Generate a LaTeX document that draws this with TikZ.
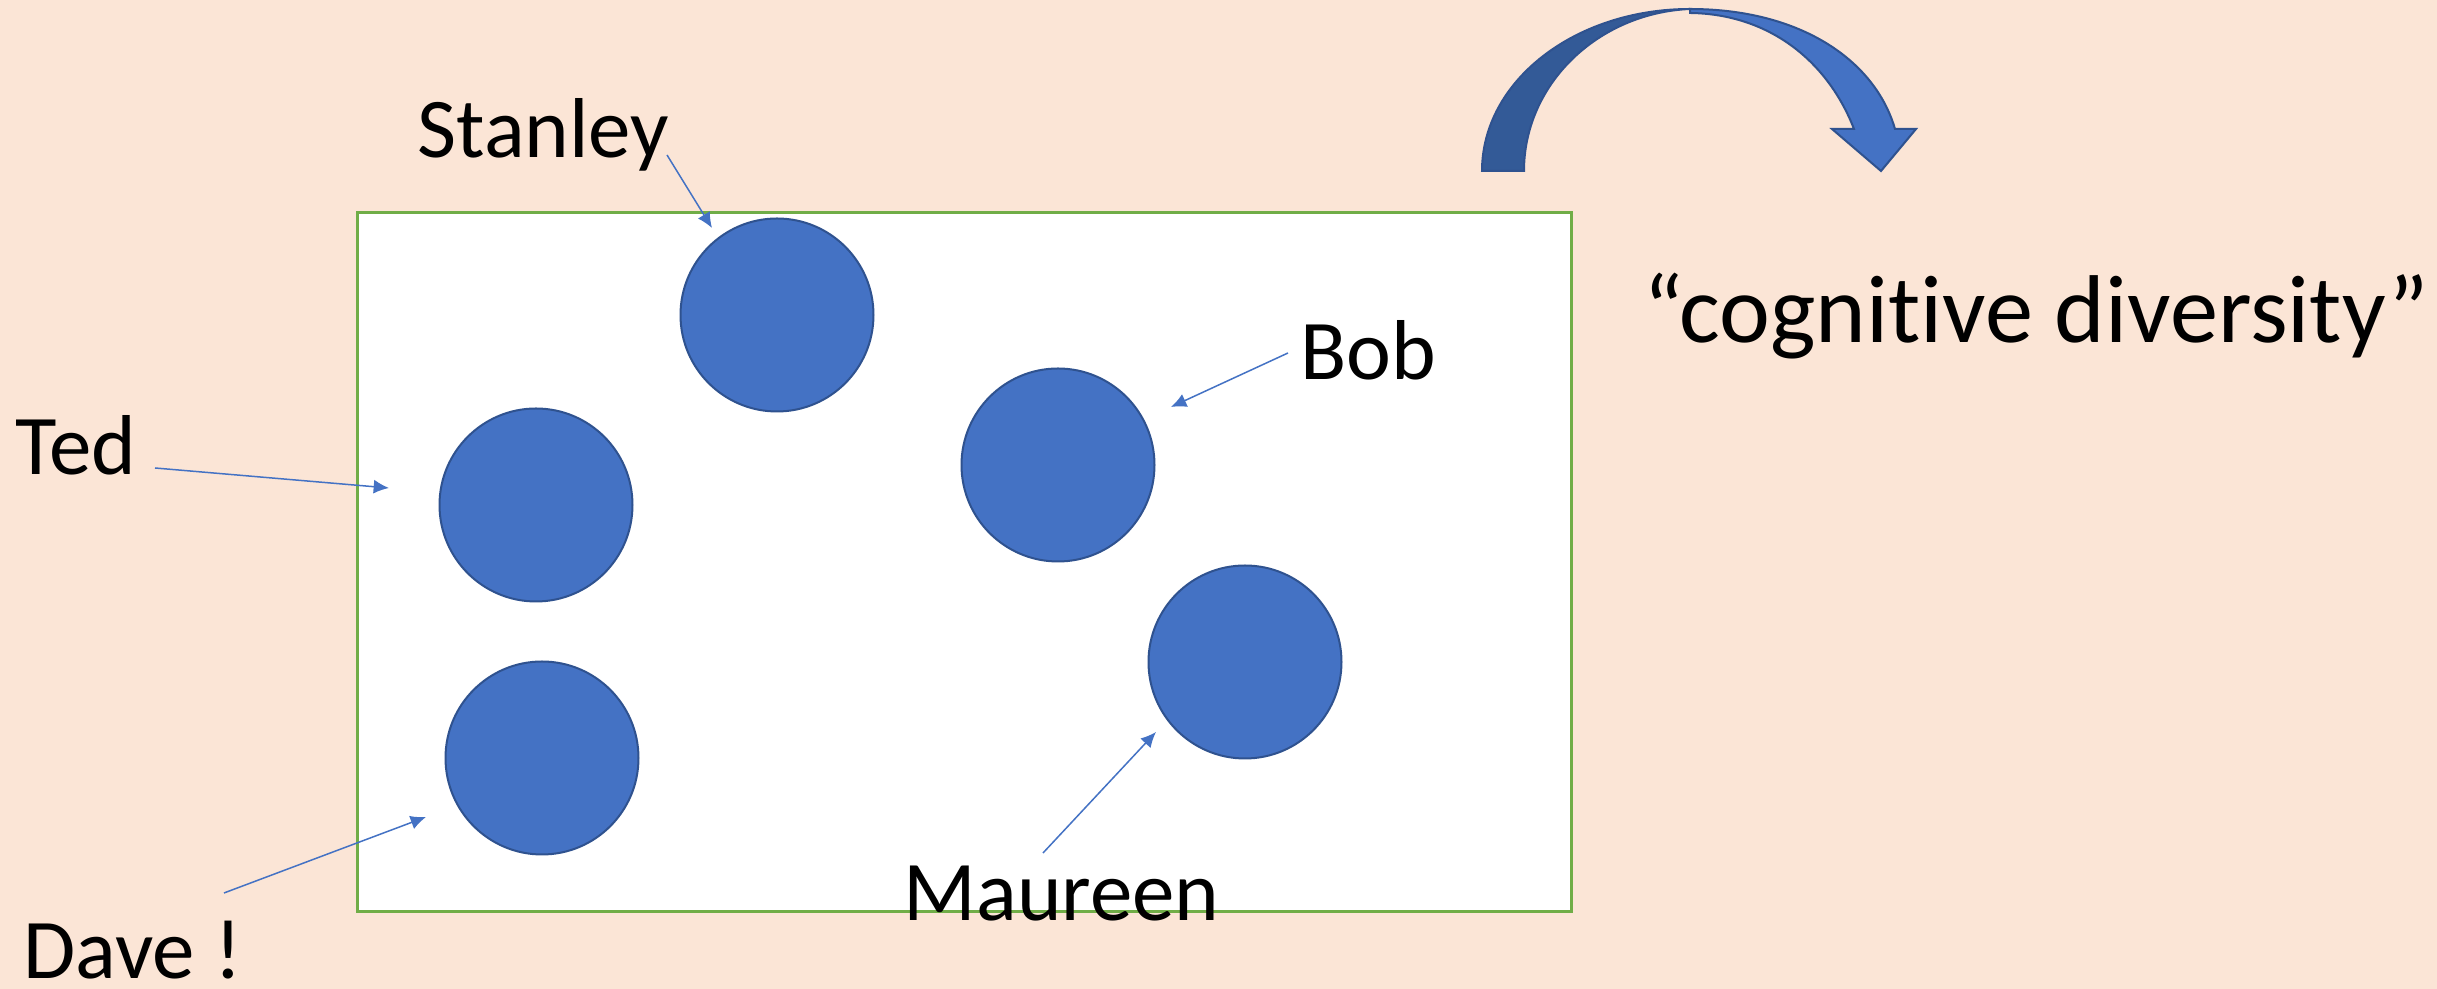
\documentclass[tikz,border=0pt]{standalone}
\usepackage{fontspec}
\setmainfont{Carlito}[Ligatures={NoCommon}]
\usetikzlibrary{arrows.meta}
\definecolor{peach}{HTML}{FBE5D6}
\definecolor{accent}{HTML}{4472C4}
\definecolor{accentdark}{HTML}{2F528F}
\definecolor{bandshade}{HTML}{335A97}
\definecolor{frame}{HTML}{70AD47}
\begin{document}
\begin{tikzpicture}[x=0.3pt,y=-0.3pt,
  person/.style={circle, fill=accent, draw=accentdark, line width=0.6pt,
    minimum size=57.9pt, inner sep=0pt},
  personlabel/.style={anchor=base west, inner sep=0pt, font=\fontsize{25.5}{30}\selectfont},
  pointer/.style={draw=accent, line width=0.45pt, -{Latex[length=4.6pt,width=4.2pt]}}]
% page background
\fill[peach] (0,0) rectangle (2437,989);
\useasboundingbox (0,0) rectangle (2437,989);

% the field holding the people
\node[draw=frame, fill=white, line width=0.9pt, anchor=north west, inner sep=0pt,
  minimum width=364.2pt, minimum height=209.7pt] (field) at (356,211) {};

% people
\node[person] (stanleyC) at (777,315) {};
\node[person] (tedC) at (536,505) {};
\node[person] (daveC) at (542,758) {};
\node[person] (bobC) at (1058,465) {};
\node[person] (maureenC) at (1245,662) {};

% names
\node[personlabel] (stanley) at (417,158) {Stanley};
\node[personlabel] (ted) at (15,475) {Ted};
\node[personlabel] (dave) at (23,979) {Dave !};
\node[personlabel] (bob) at (1300,380) {Bob};
\node[personlabel] (maureen) at (903,921) {Maureen};
\node[anchor=base west, inner sep=0pt, font=\fontsize{28.9}{34}\selectfont]
  (cogdiv) at (1643,343) {“cognitive diversity”};

% pointer ends
\coordinate (stanleyS) at (667,155);
\coordinate (stanleyT) at (712,228);
\coordinate (tedS) at (155,468);
\coordinate (tedT) at (389,488);
\coordinate (daveS) at (224,893);
\coordinate (daveT) at (426,817);
\coordinate (bobS) at (1288,353);
\coordinate (bobT) at (1171,407);
\coordinate (maureenS) at (1043,853);
\coordinate (maureenT) at (1156,732);

\draw[pointer] (stanleyS) -- (stanleyT);
\draw[pointer] (tedS) -- (tedT);
\draw[pointer] (daveS) -- (daveT);
\draw[pointer] (bobS) -- (bobT);
\draw[pointer] (maureenS) -- (maureenT);

% curved block arrow: front band with head, then rear band
\filldraw[fill=accent, draw=accentdark, line width=0.6pt, line join=miter]
  (1690,9) .. controls (1800,9) and (1875,60) .. (1895,129)
  -- (1916,129) -- (1881,171) -- (1832,129) -- (1854,129)
  .. controls (1828,62) and (1770,14) .. (1690,13) -- cycle;
\filldraw[fill=bandshade, draw=accentdark, line width=0.6pt]
  (1482,171) .. controls (1482,81) and (1575,9) .. (1690,9)
  .. controls (1598,13) and (1524,84) .. (1524,171) -- cycle;
\end{tikzpicture}
\end{document}
